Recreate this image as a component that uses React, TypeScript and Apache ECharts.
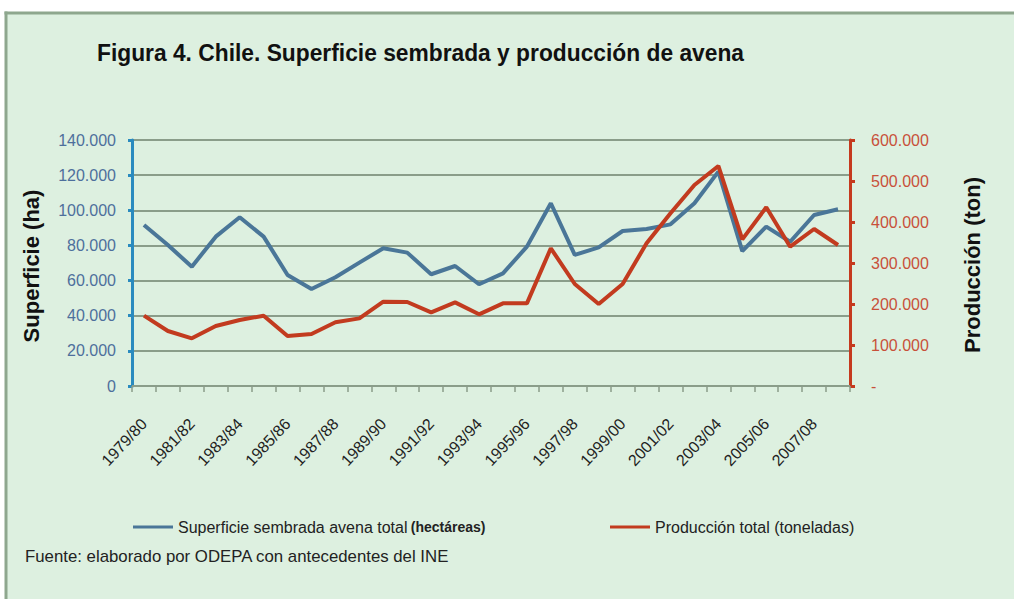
import React, { useEffect, useRef } from "react";
import * as echarts from "echarts";

const categories: string[] = [
  "1979/80", "1980/81", "1981/82", "1982/83", "1983/84", "1984/85", "1985/86", "1986/87",
  "1987/88", "1988/89", "1989/90", "1990/91", "1991/92", "1992/93", "1993/94", "1994/95",
  "1995/96", "1996/97", "1997/98", "1998/99", "1999/00", "2000/01", "2001/02", "2002/03",
  "2003/04", "2004/05", "2005/06", "2006/07", "2007/08", "2008/09",
];

const superficie: number[] = [
  91600, 80200, 67900, 85000, 96000, 85000, 63200, 55200, 61900, 70200,
  78400, 75900, 63600, 68300, 57900, 64100, 79300, 104000, 74600, 78900,
  88200, 89400, 92000, 104000, 122000, 76800, 90700, 82100, 97300, 100600,
];

const produccion: number[] = [
  171500, 134100, 116300, 146300, 161000, 171500, 122000, 126800, 155300, 165000,
  205700, 204900, 179700, 204000, 174800, 201600, 201600, 335800, 248800, 200000,
  248800, 348000, 421200, 490200, 536600, 357700, 435800, 339800, 382900, 343900,
];

const leftTicks = { min: 0, max: 140000, interval: 20000 };
const rightTicks = { min: 0, max: 600000, interval: 100000 };

const TITLE = "Figura 4. Chile. Superficie sembrada y producción de avena";
const SOURCE = "Fuente: elaborado por ODEPA con antecedentes del INE";
const SERIES_A = "Superficie sembrada avena total";
const SERIES_B = "Producción total (toneladas)";

function fmt(v: number): string {
  return Math.round(v).toString().replace(/\B(?=(\d{3})+(?!\d))/g, ".");
}

const FONT = "'Liberation Sans', Arial, sans-serif";

export default function App() {
  const ref = useRef<HTMLDivElement>(null);
  useEffect(() => {
    document.documentElement.style.overflow = "hidden";
    document.body.style.margin = "0";
    document.body.style.overflow = "hidden";
    if (!ref.current) return;
    const chart = echarts.init(ref.current, null, { renderer: "svg" });
    chart.setOption({
      animation: false,
      backgroundColor: "#ffffff",
      graphic: [
        {
          type: "rect",
          z: -10,
          shape: { x: 6, y: 13, width: 1030, height: 620 },
          style: { fill: "#ddf0e0" },
          silent: true,
        },
        {
          type: "line",
          z: -9,
          shape: { x1: 4.5, y1: 13, x2: 1014, y2: 13 },
          style: { stroke: "#8ea78e", lineWidth: 3 },
          silent: true,
        },
        {
          type: "line",
          z: -9,
          shape: { x1: 6, y1: 11.5, x2: 6, y2: 599 },
          style: { stroke: "#8ea78e", lineWidth: 3 },
          silent: true,
        },
        {
          type: "text",
          x: 97,
          y: 53,
          scaleX: 0.95,
          style: {
            text: TITLE,
            font: `bold 24px ${FONT}`,
            fill: "#111111",
            textAlign: "left",
            textVerticalAlign: "middle",
          },
        },
        {
          type: "text",
          x: 31,
          y: 266,
          rotation: Math.PI / 2,
          style: {
            text: "Superficie (ha)",
            font: `bold 22px ${FONT}`,
            fill: "#111111",
            textAlign: "center",
            textVerticalAlign: "middle",
          },
        },
        {
          type: "text",
          x: 972,
          y: 265,
          rotation: Math.PI / 2,
          style: {
            text: "Producción (ton)",
            font: `bold 22px ${FONT}`,
            fill: "#111111",
            textAlign: "center",
            textVerticalAlign: "middle",
          },
        },
        {
          type: "text",
          x: 25,
          y: 556,
          scaleX: 1.05,
          style: {
            text: SOURCE,
            font: `16px ${FONT}`,
            fill: "#222222",
            textAlign: "left",
            textVerticalAlign: "middle",
          },
        },
      ],
      legend: [
        {
          data: [SERIES_A],
          left: 128,
          top: 514,
          icon: "rect",
          itemWidth: 40,
          itemHeight: 3,
          formatter: () => "{a|Superficie sembrada avena total} {b|(hectáreas)}",
          textStyle: {
            rich: {
              a: { fontFamily: FONT, fontSize: 16, color: "#222" },
              b: { fontFamily: FONT, fontSize: 14, color: "#222", fontWeight: "bold" },
            },
          },
        },
        {
          data: [SERIES_B],
          left: 605,
          top: 514,
          icon: "rect",
          itemWidth: 40,
          itemHeight: 3,
          textStyle: { fontFamily: FONT, fontSize: 16, color: "#222" },
        },
      ],
      grid: { left: 132, right: 164, top: 140, bottom: 213 },
      xAxis: {
        type: "category",
        data: categories,
        boundaryGap: true,
        axisLine: { lineStyle: { color: "#8a9d8a", width: 2 } },
        axisTick: { show: true, interval: 0, length: 6, lineStyle: { color: "#8a9d8a", width: 1.5 } },
        axisLabel: {
          interval: 1,
          rotate: 47,
          margin: 35,
          fontFamily: FONT,
          fontSize: 16,
          color: "#222222",
        },
      },
      yAxis: [
        {
          type: "value",
          min: leftTicks.min,
          max: leftTicks.max,
          interval: leftTicks.interval,
          axisLine: { show: true, lineStyle: { color: "#2a8bbf", width: 3 } },
          axisTick: { show: true, length: 4, lineStyle: { color: "#2a8bbf", width: 3 } },
          axisLabel: {
            margin: 16,
            fontFamily: FONT,
            fontSize: 16,
            color: "#4d6f9c",
            formatter: (v: number) => fmt(v),
          },
          splitLine: { show: true, lineStyle: { color: "#8a9d8a", width: 2 } },
        },
        {
          type: "value",
          position: "right",
          min: rightTicks.min,
          max: rightTicks.max,
          interval: rightTicks.interval,
          axisLine: { show: true, lineStyle: { color: "#c53a1e", width: 3 } },
          axisTick: { show: true, length: 5, lineStyle: { color: "#c53a1e", width: 3 } },
          axisLabel: {
            margin: 21,
            fontFamily: FONT,
            fontSize: 16,
            color: "#c8503a",
            formatter: (v: number) => (v === 0 ? "-" : fmt(v)),
          },
          splitLine: { show: false },
        },
      ],
      series: [
        {
          name: SERIES_A,
          type: "line",
          yAxisIndex: 0,
          data: superficie,
          showSymbol: false,
          symbol: "none",
          lineStyle: { color: "#4a7698", width: 4 },
          itemStyle: { color: "#4a7698" },
        },
        {
          name: SERIES_B,
          type: "line",
          yAxisIndex: 1,
          data: produccion,
          showSymbol: false,
          symbol: "none",
          lineStyle: { color: "#c23b1f", width: 4 },
          itemStyle: { color: "#c23b1f" },
        },
      ],
    });
    return () => chart.dispose();
  }, []);
  return (
    <div
      ref={ref}
      style={{ position: "fixed", left: 0, top: 0, width: 1014, height: 599 }}
    />
  );
}
